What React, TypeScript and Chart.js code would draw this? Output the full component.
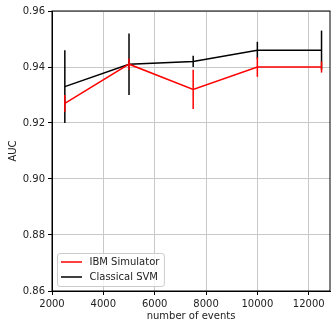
import React, { useEffect, useRef } from "react";
import { Chart, registerables } from "chart.js";
Chart.register(...registerables);

const xValues = [2500, 5000, 7500, 10000, 12500];
const ibmAuc = [0.927, 0.941, 0.932, 0.94, 0.94];
const ibmErr = [0.003, 0.002, 0.007, 0.0035, 0.002];
const svmAuc = [0.933, 0.941, 0.942, 0.946, 0.946];
const svmErr = [0.013, 0.011, 0.002, 0.003, 0.007];
const xTicks = [2000, 4000, 6000, 8000, 10000, 12000];
const yTicks = [0.86, 0.88, 0.9, 0.92, 0.94, 0.96];
const seriesNames = ["IBM Simulator", "Classical SVM"];
const seriesColors = ["#ff0000", "#000000"];
const seriesErrors = [ibmErr, svmErr];

const FONT = "'DejaVu Sans', sans-serif";

const errorBarPlugin = {
  id: "errorBars",
  afterDatasetDraw(chart: any, args: any) {
    const i = args.index;
    const errs = seriesErrors[i];
    const ds = chart.data.datasets[i];
    const xs = chart.scales.x;
    const ys = chart.scales.y;
    const ctx = chart.ctx;
    ctx.save();
    ctx.strokeStyle = seriesColors[i];
    ctx.lineWidth = 1.5;
    ds.data.forEach((p: any, k: number) => {
      const px = xs.getPixelForValue(p.x);
      const y1 = ys.getPixelForValue(p.y - errs[k]);
      const y2 = ys.getPixelForValue(p.y + errs[k]);
      ctx.beginPath();
      ctx.moveTo(px, y1);
      ctx.lineTo(px, y2);
      ctx.stroke();
    });
    ctx.restore();
  },
};

const framePlugin = {
  id: "frameLegend",
  afterDraw(chart: any) {
    const ctx = chart.ctx;
    const ca = chart.chartArea;
    ctx.save();
    ctx.strokeStyle = "#000";
    ctx.lineWidth = 1;
    ctx.strokeRect(ca.left, ca.top, ca.right - ca.left, ca.bottom - ca.top);
    ctx.font = `10px ${FONT}`;
    const boxL = ca.left + 5.5;
    const boxB = ca.bottom - 4.5;
    const boxH = 33;
    const boxT = boxB - boxH;
    const textX = boxL + 32;
    const maxW = Math.max(...seriesNames.map((n) => ctx.measureText(n).width));
    const boxW = textX + maxW + 5 - boxL;
    const r = 2.5;
    ctx.beginPath();
    ctx.moveTo(boxL + r, boxT);
    ctx.lineTo(boxL + boxW - r, boxT);
    ctx.arcTo(boxL + boxW, boxT, boxL + boxW, boxT + r, r);
    ctx.lineTo(boxL + boxW, boxB - r);
    ctx.arcTo(boxL + boxW, boxB, boxL + boxW - r, boxB, r);
    ctx.lineTo(boxL + r, boxB);
    ctx.arcTo(boxL, boxB, boxL, boxB - r, r);
    ctx.lineTo(boxL, boxT + r);
    ctx.arcTo(boxL, boxT, boxL + r, boxT, r);
    ctx.closePath();
    ctx.fillStyle = "rgba(255,255,255,0.8)";
    ctx.fill();
    ctx.strokeStyle = "#cccccc";
    ctx.lineWidth = 1;
    ctx.stroke();
    seriesNames.forEach((n, i) => {
      const y = boxT + 8.5 + i * 15;
      ctx.strokeStyle = seriesColors[i];
      ctx.lineWidth = 1.5;
      ctx.beginPath();
      ctx.moveTo(boxL + 3.5, y);
      ctx.lineTo(boxL + 24.5, y);
      ctx.stroke();
      ctx.fillStyle = "#222";
      ctx.textBaseline = "middle";
      ctx.textAlign = "left";
      ctx.fillText(n, textX, y);
    });
    ctx.restore();
  },
};

export default function App() {
  const ref = useRef<HTMLCanvasElement>(null);
  useEffect(() => {
    document.body.style.margin = "0";
    const datasets = [ibmAuc, svmAuc].map((vals, i) => ({
      label: seriesNames[i],
      data: vals.map((v, k) => ({ x: xValues[k], y: v })),
      borderColor: seriesColors[i],
      backgroundColor: seriesColors[i],
      borderWidth: 1.5,
      pointRadius: 0,
      tension: 0,
      fill: false,
    }));
    const grid = { color: "#c8c8c8", lineWidth: 1, tickColor: "#000", tickWidth: 1, tickLength: 4 };
    const chart = new Chart(ref.current!, {
      type: "line",
      data: { datasets },
      plugins: [errorBarPlugin, framePlugin],
      options: {
        animation: false,
        responsive: false,
        layout: { padding: { top: 11, right: 1, left: 0, bottom: 0 } },
        plugins: { legend: { display: false }, tooltip: { enabled: false } },
        scales: {
          x: {
            type: "linear",
            min: 2000,
            max: 12830,
            afterBuildTicks: (s: any) => {
              s.ticks = xTicks.map((v) => ({ value: v }));
            },
            afterFit: (s: any) => {
              s.height = 30;
            },
            grid,
            border: { color: "#000", width: 1 },
            ticks: {
              color: "#222",
              font: { family: FONT, size: 10 },
              padding: 3,
              maxRotation: 0,
              autoSkip: false,
              callback: (v: any) => String(v),
            },
            title: {
              display: true,
              text: "number of events",
              color: "#222",
              font: { family: FONT, size: 10, lineHeight: 1 },
              padding: 0,
            },
          },
          y: {
            type: "linear",
            min: 0.86,
            max: 0.96,
            afterBuildTicks: (s: any) => {
              s.ticks = yTicks.map((v) => ({ value: v }));
            },
            afterFit: (s: any) => {
              s.width = 52;
            },
            grid,
            border: { color: "#000", width: 1 },
            ticks: {
              color: "#222",
              font: { family: FONT, size: 10 },
              padding: 3,
              autoSkip: false,
              callback: (v: any) => Number(v).toFixed(2),
            },
            title: {
              display: true,
              text: "AUC",
              color: "#222",
              font: { family: FONT, size: 10 },
              padding: { top: 7, bottom: 0 },
            },
          },
        },
      },
    });
    return () => chart.destroy();
  }, []);
  return (
    <div style={{ position: "absolute", left: 0, top: 0, width: 331, height: 321 }}>
      <canvas ref={ref} width={331} height={321} />
    </div>
  );
}
